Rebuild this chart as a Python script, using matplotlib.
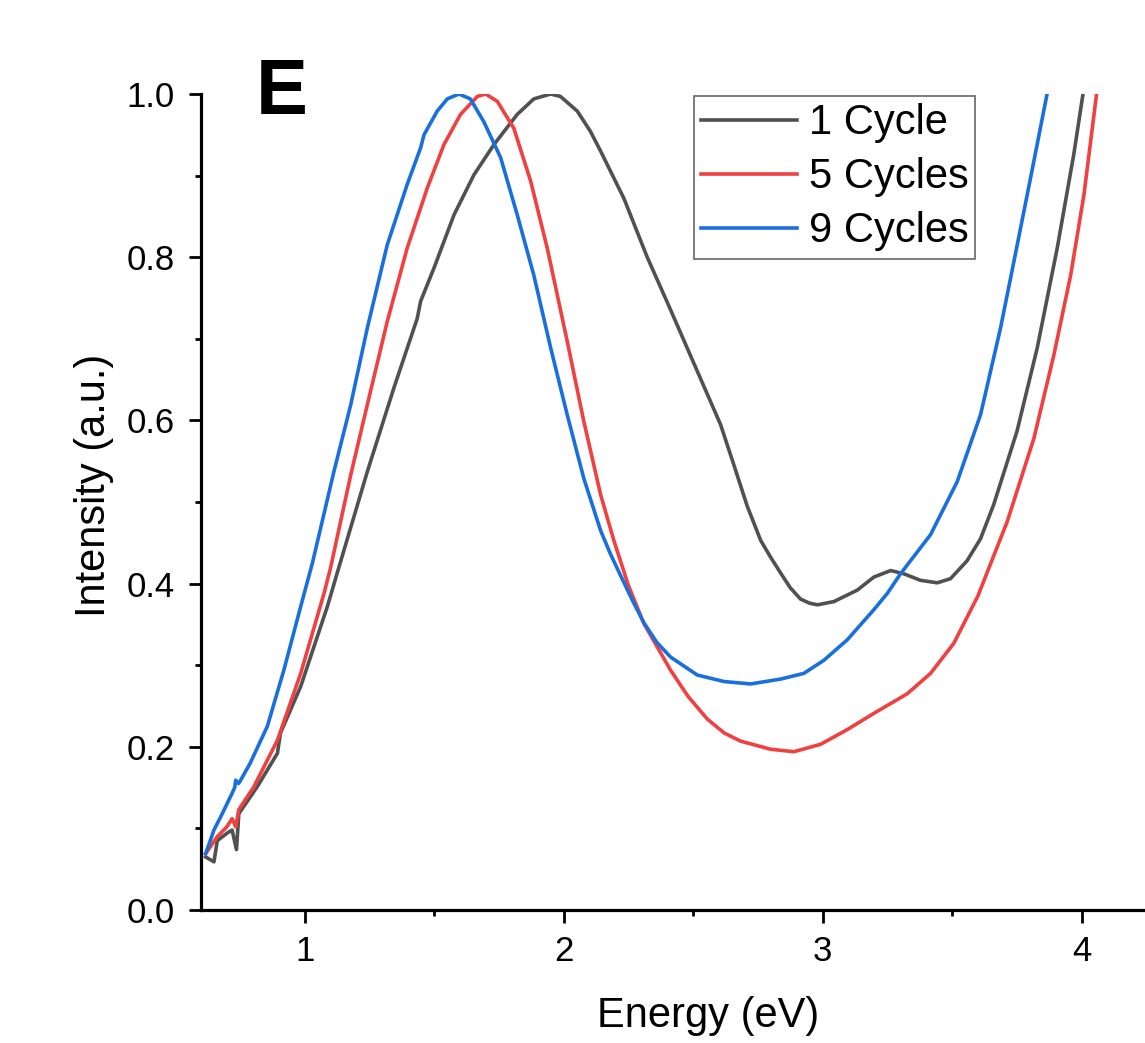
import matplotlib
matplotlib.use("Agg")
import matplotlib.pyplot as plt
from matplotlib.ticker import MultipleLocator

plt.rcParams['font.family'] = ['Liberation Sans', 'DejaVu Sans']

# ---- data ----
e_1 = [0.618, 0.650, 0.663, 0.700, 0.720, 0.737, 0.746, 0.817, 0.895, 0.907,
       0.985, 1.088, 1.125, 1.242, 1.345, 1.435, 1.448, 1.500, 1.577, 1.654,
       1.731, 1.821, 1.885, 1.950, 1.988, 2.053, 2.104, 2.143, 2.233, 2.323,
       2.400, 2.503, 2.606, 2.658, 2.709, 2.761, 2.800, 2.838, 2.875, 2.915,
       2.950, 2.980, 3.044, 3.134, 3.198, 3.263, 3.314, 3.378, 3.443, 3.494,
       3.558, 3.610, 3.661, 3.751, 3.829, 3.906, 3.970, 4.008]
i_1 = [0.065, 0.059, 0.085, 0.094, 0.098, 0.074, 0.118, 0.151, 0.192, 0.217,
       0.274, 0.372, 0.412, 0.537, 0.640, 0.725, 0.746, 0.787, 0.852, 0.901,
       0.938, 0.975, 0.994, 1.000, 0.997, 0.979, 0.954, 0.930, 0.872, 0.800,
       0.745, 0.670, 0.595, 0.545, 0.495, 0.453, 0.432, 0.413, 0.395, 0.381,
       0.376, 0.374, 0.378, 0.392, 0.408, 0.416, 0.412, 0.404, 0.401, 0.406,
       0.428, 0.455, 0.497, 0.587, 0.689, 0.811, 0.926, 1.005]

e_5 = [0.618, 0.663, 0.700, 0.720, 0.734, 0.746, 0.804, 0.895, 0.985, 1.075,
       1.100, 1.178, 1.242, 1.319, 1.396, 1.474, 1.538, 1.602, 1.667, 1.699,
       1.744, 1.808, 1.873, 1.937, 2.014, 2.078, 2.143, 2.194, 2.250, 2.310,
       2.413, 2.480, 2.555, 2.620, 2.683, 2.799, 2.889, 2.992, 3.095, 3.198,
       3.327, 3.417, 3.507, 3.600, 3.713, 3.816, 3.893, 3.958, 4.009, 4.060]
i_5 = [0.069, 0.090, 0.102, 0.112, 0.102, 0.123, 0.151, 0.208, 0.290, 0.388,
       0.419, 0.533, 0.619, 0.721, 0.811, 0.885, 0.938, 0.975, 0.997, 1.000,
       0.991, 0.958, 0.893, 0.811, 0.697, 0.599, 0.509, 0.453, 0.398, 0.351,
       0.294, 0.262, 0.234, 0.217, 0.207, 0.197, 0.194, 0.203, 0.221, 0.241,
       0.265, 0.290, 0.327, 0.385, 0.476, 0.578, 0.680, 0.778, 0.876, 1.005]

e_9 = [0.618, 0.650, 0.682, 0.720, 0.730, 0.734, 0.745, 0.753, 0.790, 0.856,
       0.920, 0.985, 1.030, 1.113, 1.178, 1.242, 1.319, 1.396, 1.448, 1.461,
       1.512, 1.551, 1.596, 1.640, 1.692, 1.757, 1.821, 1.885, 1.950, 2.014,
       2.078, 2.143, 2.180, 2.220, 2.265, 2.310, 2.360, 2.413, 2.516, 2.619,
       2.722, 2.838, 2.928, 3.005, 3.095, 3.198, 3.250, 3.301, 3.417, 3.520,
       3.610, 3.687, 3.739, 3.803, 3.870]
i_9 = [0.069, 0.098, 0.118, 0.143, 0.150, 0.159, 0.155, 0.159, 0.180, 0.225,
       0.294, 0.372, 0.425, 0.537, 0.619, 0.713, 0.815, 0.889, 0.934, 0.950,
       0.979, 0.994, 1.000, 0.994, 0.966, 0.922, 0.852, 0.778, 0.689, 0.607,
       0.529, 0.465, 0.437, 0.410, 0.380, 0.352, 0.328, 0.310, 0.288, 0.280,
       0.277, 0.283, 0.290, 0.306, 0.331, 0.368, 0.388, 0.412, 0.460, 0.525,
       0.607, 0.713, 0.795, 0.897, 1.005]

labels = ['1 Cycle', '5 Cycles', '9 Cycles']
colors = ['#515151', '#F14040', '#1A6FDF']
x_ticks = [1, 2, 3, 4]
y_ticks = [0.0, 0.2, 0.4, 0.6, 0.8, 1.0]

# ---- figure ----
W, H = 1145, 1043
fig = plt.figure(figsize=(W / 100, H / 100), dpi=100)
ax = fig.add_axes([201 / W, (H - 910) / H, (W - 201) / W, 816 / H])

for e, i, lab, c in zip([e_1, e_5, e_9], [i_1, i_5, i_9], labels, colors):
    ax.plot(e, i, color=c, lw=2.6, label=lab, solid_joinstyle='round')

ax.set_xlim(0.6, 4.245)
ax.set_ylim(0.0, 1.0)
ax.set_xticks(x_ticks)
ax.set_xticklabels([str(t) for t in x_ticks])
ax.set_yticks(y_ticks)
ax.set_yticklabels([f"{t:.1f}" for t in y_ticks])
ax.xaxis.set_minor_locator(MultipleLocator(0.5))
ax.yaxis.set_minor_locator(MultipleLocator(0.1))

for s in ['top', 'right']:
    ax.spines[s].set_visible(False)
for s in ['left', 'bottom']:
    ax.spines[s].set_linewidth(2.3)
    ax.spines[s].set_color('black')

ax.tick_params(which='major', direction='out', length=9, width=2.0,
               labelsize=25, pad=9)
ax.tick_params(axis='y', which='major', pad=10)
ax.tick_params(which='minor', direction='out', length=4.5, width=2.0)

ax.set_xlabel('Energy (eV)', fontsize=30)
ax.set_ylabel('Intensity (a.u.)', fontsize=30)
ax.xaxis.set_label_coords((708 - 201) / (W - 201), -0.105)
ax.yaxis.set_label_coords(-0.092, (910 - 485) / 816)

leg = ax.legend(loc='upper left', bbox_to_anchor=(694 / W, 1 - 96 / H),
                bbox_transform=fig.transFigure, fontsize=30, frameon=True,
                fancybox=False, borderaxespad=0, borderpad=0.17,
                handlelength=2.3, handletextpad=0.28, labelspacing=0.34)
leg.get_frame().set_edgecolor('#404040')
leg.get_frame().set_linewidth(1.2)

fig.text(256 / W, 1 - 114 / H, 'E', fontsize=56, fontweight='bold',
         ha='left', va='baseline')

fig.savefig('out.png', dpi=100)
